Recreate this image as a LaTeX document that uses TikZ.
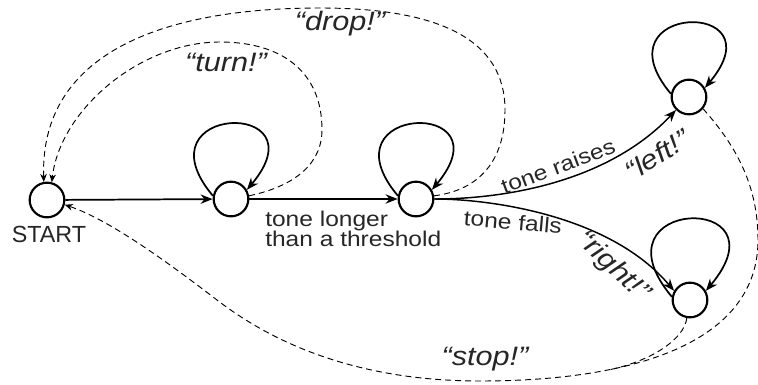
\documentclass[tikz,border=0pt]{standalone}
\usepackage{fontspec}
\setmainfont{Liberation Sans}[FakeStretch=1.15]
\newfontfamily\startfont{Liberation Sans}
\usetikzlibrary{arrows.meta}
\begin{document}
\begin{tikzpicture}[x=0.75pt,y=0.75pt,
  state/.style={circle,draw,line width=1.6pt,minimum size=26pt,inner sep=0pt},
  solidedge/.style={line width=1.3pt,-{Stealth[length=9pt,width=7pt]}},
  curveedge/.style={line width=1.1pt,-{Stealth[length=9pt,width=7pt]}},
  dashedge/.style={line width=0.7pt,dash pattern=on 4.5pt off 3pt,-{Stealth[length=6pt,width=5pt]}},
  lbl/.style={font=\fontsize{16}{15}\selectfont,text=black!85,inner sep=0pt},
  say/.style={font=\fontsize{20}{22}\selectfont\itshape,text=black!85,inner sep=0pt},
  startlbl/.style={font=\startfont\fontsize{17.5}{19}\selectfont,text=black!85,inner sep=0pt}
]
\useasboundingbox (0,0) rectangle (758,-385);

% states
\node[state] (start) at (47,-200) {};
\node[state] (s1) at (231,-199) {};
\node[state] (s2) at (416,-199) {};
\node[state] (l) at (689,-97) {};
\node[state] (r) at (690,-300) {};

% main transitions
\draw[solidedge] (start) -- (s1);
\draw[solidedge] (s1) -- (s2);
\draw[curveedge] (s2.east) .. controls (510,-199) and (610,-180) .. (l.225);
\draw[curveedge] (s2.east) .. controls (490,-199) and (610,-215) .. (r.150);

% self loops
\draw[solidedge] (s1.170) .. controls +(130:120) and +(50:120) .. (s1.30);
\draw[solidedge] (s2.170) .. controls +(130:120) and +(50:120) .. (s2.30);
\draw[solidedge] (l.170) .. controls +(130:118) and +(50:118) .. (l.30);
\draw[solidedge] (r.170) .. controls +(130:130) and +(50:130) .. (r.30);

% dashed returns
\draw[dashedge] (s1.10) .. controls (300,-185) and (322,-160) .. (322,-130)
  .. controls (322,-70) and (280,-42) .. (220,-42)
  .. controls (140,-42) and (60,-110) .. (start.75);
\draw[dashedge] (s2.10) .. controls (480,-190) and (505,-160) .. (505,-110)
  .. controls (505,-40) and (440,-8) .. (320,-8)
  .. controls (150,-8) and (40,-60) .. (start.100);
\coordinate (m) at (480,-381);
\coordinate (j) at (610.6,-369.5);
\coordinate (k) at (217,-300);
\draw[dashedge] (l.-40) .. controls (740,-150) and (758,-190) .. (758,-240)
  .. controls (758,-340) and (640,-381) .. (m)
  .. controls (380,-381) and (290,-356) .. (k)
  .. controls (170,-264) and (110,-220) .. (start.-15);
\draw[dashedge,-] (r.-100) .. controls (684,-340) and (650,-361) .. (j);

% labels
\node[startlbl] (startname) at (49,-234) {START};
\node[lbl,align=left,anchor=north west] (thr) at (265,-211) {tone longer\\than a threshold};
\node[lbl,rotate=20.6] (traise) at (558,-166) {tone raises};
\node[lbl,rotate=-5] (tfall) at (513,-222) {tone falls};
\node[say,rotate=32] (leftl) at (657,-155) {“left!”};
\node[say,rotate=-43] (rightl) at (613,-267) {“right!”};
\node[say] (turnl) at (226,-62) {“turn!”};
\node[say] (dropl) at (340,-24) {“drop!”};
\node[say] (stopl) at (485,-359) {“stop!”};
\end{tikzpicture}
\end{document}
